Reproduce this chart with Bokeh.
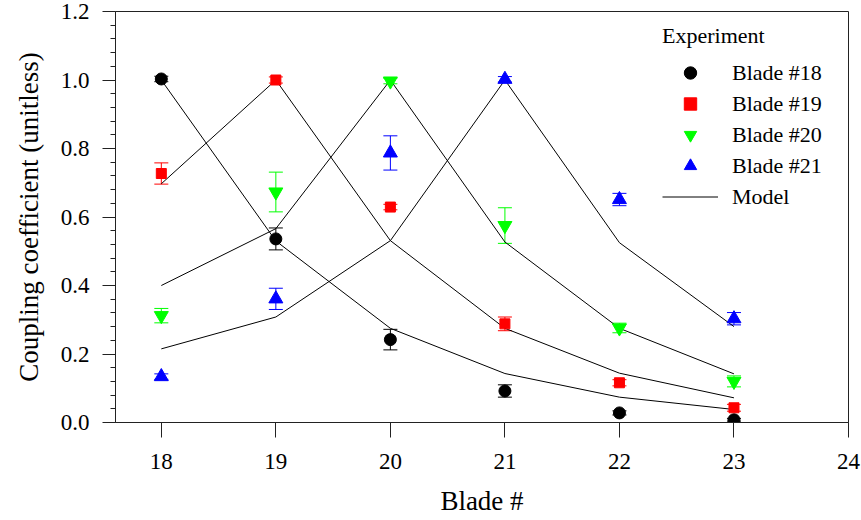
from bokeh.plotting import figure
from bokeh.models import (ColumnDataSource, Whisker, TeeHead, Legend, LegendItem,
                          Range1d, FixedTicker, NumeralTickFormatter, InlineStyleSheet)
from bokeh.embed import file_html
from bokeh.resources import INLINE

# ---------------- data ----------------
blades = [18, 19, 20, 21, 22, 23]
x_ticks = [18, 19, 20, 21, 22, 23, 24]
y_ticks = [0.0, 0.2, 0.4, 0.6, 0.8, 1.0, 1.2]
y_minor = [0.04, 0.08, 0.12, 0.16, 0.24, 0.28, 0.32, 0.36, 0.44, 0.48, 0.52, 0.56,
           0.64, 0.68, 0.72, 0.76, 0.84, 0.88, 0.92, 0.96, 1.04, 1.08, 1.12, 1.16]

b18 = [1.003, 0.536, 0.242, 0.092, 0.028, 0.008]
b18_err = [0.008, 0.032, 0.030, 0.018, 0.006, 0.004]
b19 = [0.727, 1.000, 0.629, 0.288, 0.116, 0.043]
b19_err = [0.031, 0.009, 0.008, 0.020, 0.009, 0.010]
b20 = [0.312, 0.673, 0.997, 0.575, 0.276, 0.120]
b20_err = [0.021, 0.058, 0.008, 0.052, 0.014, 0.016]
b21 = [0.134, 0.361, 0.787, 1.002, 0.651, 0.303]
b21_err = [0.008, 0.031, 0.050, 0.008, 0.018, 0.018]

m18 = [1.000, 0.530, 0.275, 0.143, 0.074, 0.038]
m19 = [0.697, 1.000, 0.531, 0.275, 0.144, 0.072]
m20 = [0.400, 0.566, 1.000, 0.527, 0.275, 0.142]
m21 = [0.215, 0.308, 0.531, 1.000, 0.525, 0.280]

labels = ["Blade #18", "Blade #19", "Blade #20", "Blade #21"]
colors = ["black", "#FF0000", "#00FF00", "#0000FF"]
markers = ["circle", "square", "inverted_triangle", "triangle"]
sizes = [12, 10, 14, 14]

FONT = "Liberation Serif"

p = figure(width=861, height=520, x_range=Range1d(17.6, 24), y_range=Range1d(0, 1.2),
           output_backend="svg", toolbar_location=None,
           min_border_left=115, min_border_top=11, min_border_right=13, min_border_bottom=98)
p.stylesheets = [InlineStyleSheet(css="svg text { font-family: 'Liberation Serif', serif !important; }")]
p.grid.visible = False
p.outline_line_color = "#222222"
p.outline_line_width = 1

# model lines
model_renderers = []
for m in [m18, m19, m20, m21]:
    r = p.line(blades, m, line_color="black", line_width=1)
    model_renderers.append(r)

# experiment points with error bars
exp_renderers = []
for vals, errs, col, mk, sz in zip([b18, b19, b20, b21], [b18_err, b19_err, b20_err, b21_err],
                                   colors, markers, sizes):
    src = ColumnDataSource(dict(x=blades, y=vals,
                                lo=[v - e for v, e in zip(vals, errs)],
                                hi=[v + e for v, e in zip(vals, errs)]))
    w = Whisker(base="x", upper="hi", lower="lo", source=src, dimension="height",
                line_color=col, line_width=1,
                upper_head=TeeHead(size=14, line_color=col, line_width=1),
                lower_head=TeeHead(size=14, line_color=col, line_width=1))
    p.add_layout(w)
    r = p.scatter("x", "y", source=src, marker=mk, size=sz, fill_color=col, line_color=col)
    exp_renderers.append(r)

# axes
for ax in [p.xaxis[0], p.yaxis[0]]:
    ax.axis_line_color = "#222222"
    ax.major_tick_line_color = "#222222"
    ax.minor_tick_line_color = "#222222"
    ax.major_tick_in = 0
    ax.minor_tick_in = 0
    ax.major_label_text_font = FONT
    ax.major_label_text_font_size = "23px"
    ax.major_label_text_color = "black"
    ax.axis_label_text_font = FONT
    ax.axis_label_text_font_size = "27px"
    ax.axis_label_text_font_style = "normal"
    ax.axis_label_text_color = "black"

p.xaxis.ticker = FixedTicker(ticks=x_ticks)
p.xaxis.major_tick_out = 15
p.xaxis.major_label_standoff = 16
p.xaxis.axis_label = "Blade #"
p.xaxis.axis_label_standoff = 14

p.yaxis.ticker = FixedTicker(ticks=y_ticks, minor_ticks=y_minor)
p.yaxis.formatter = NumeralTickFormatter(format="0.0")
p.yaxis.major_tick_out = 13
p.yaxis.minor_tick_out = 5
p.yaxis.major_label_standoff = 13
p.yaxis.axis_label = "Coupling coefficient (unitless)"
p.yaxis.axis_label_standoff = 14

# legend
items = [LegendItem(label=l, renderers=[r]) for l, r in zip(labels, exp_renderers)]
items.append(LegendItem(label="Model", renderers=[model_renderers[0]]))
legend = Legend(items=items, location=(547, 210), title="Experiment",
                title_text_font=FONT, title_text_font_size="22px", title_text_font_style="normal",
                title_text_color="black", title_standoff=8,
                label_text_font=FONT, label_text_font_size="22px", label_text_color="black",
                glyph_width=56, glyph_height=31, label_height=31, label_standoff=14,
                spacing=0, padding=0, margin=0,
                border_line_color=None, background_fill_alpha=0)
p.add_layout(legend)

open("out.html", "w").write(file_html(p, INLINE))
